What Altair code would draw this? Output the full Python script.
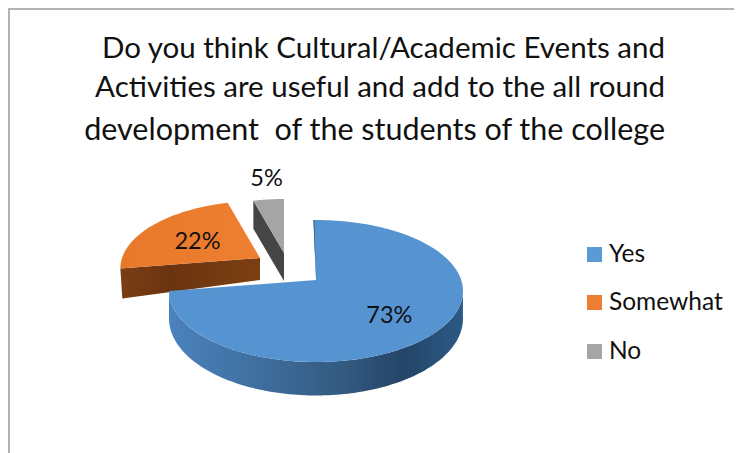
import numpy as np
import pandas as pd
import altair as alt

# ---- data ----
categories = ["Yes", "Somewhat", "No"]
shares = [73, 22, 5]
labels = ["73%", "22%", "5%"]
title_lines = [
    "Do you think Cultural/Academic Events and",
    "Activities are useful and add to the all round",
    "development\u00a0 of the students of the college",
]

# ---- style ----
top_colors = ["#5694d1", "#e97b2c", "#a5a5a5"]
legend_colors = ["#5b9bd5", "#ed7d31", "#a5a5a5"]
FONT = "Lato"
RX, RY, LIFT = 147, 71, 11
apex = [(316, 280), (260, 258), (284, 253)]
size_k = [1.0, 0.95, 0.9]
label_frac = [0.70, 0.57, 1.13]
label_dy = [-10, -3, -12]

X = alt.X("x:Q", axis=None, scale=alt.Scale(domain=[8, 734], range=[0, 726]))
Y = alt.Y("y:Q", axis=None, scale=alt.Scale(domain=[8, 453], range=[0, 445]))


def warp(theta):
    # foreshortening of the tilted disc
    return np.interp(theta, [0, 262.8, 342, 360], [-1, 270, 346.6, 360])


def depth(phi):
    return 27.5 - 6 * np.cos(np.radians(phi))


def rim(i, phi):
    ax, ay = apex[i]
    k = size_k[i]
    r = np.radians(phi)
    return ax + k * RX * np.sin(r), ay + LIFT * k - k * RY * np.cos(r)


def poly(xs, ys, fill, stroke=None):
    df = pd.DataFrame({"x": xs, "y": ys, "o": range(len(xs))})
    return (
        alt.Chart(df)
        .mark_line(fill=fill, stroke=stroke or "#00000000", strokeWidth=0.5, clip=False)
        .encode(x=X, y=Y, order="o:Q")
    )


def grad(stops):
    return alt.Gradient(
        gradient="linear", x1=0, x2=1, y1=0, y2=0,
        stops=[alt.GradientStop(offset=o, color=c) for o, c in stops],
    )


edges = np.cumsum([0] + shares) * 3.6
starts = warp(edges[:-1])
ends = warp(edges[1:])
ends[2] = 360
layers = []

# border
border = pd.DataFrame({"x": [734, 9, 9], "y": [9, 9, 453], "o": [0, 1, 2]})
layers.append(
    alt.Chart(border).mark_line(color="#b2b2b2", strokeWidth=2).encode(x=X, y=Y, order="o:Q")
)

# orange: flat cut face, then top
ax, ay = apex[1]
lx, ly = rim(1, starts[1])
layers.append(
    poly([lx, ax, ax, lx + 2], [ly, ay, ay + 22, ly + 30],
         grad([(0, "#7a3e14"), (0.35, "#6b3410"), (1, "#7c3f12")]))
)
phi = np.linspace(starts[1], ends[1], 50)
px, py = rim(1, phi)
layers.append(
    poly([ax, *px, ax], [ay, *py, ay], grad([(0, "#e8782a"), (1, "#ef7f30")]))
)

# grey: inner face, then top
ax, ay = apex[2]
lx, ly = rim(2, starts[2])
layers.append(poly([lx, ax, ax, lx], [ly, ay, ay + 28, ly + 28], "#454545"))
phi = np.linspace(starts[2], ends[2], 20)
px, py = rim(2, phi)
layers.append(poly([ax, *px, ax], [ay, *py, ay], "#a5a5a5"))

# blue: rim wall, then top
phi = np.linspace(88, ends[0], 120)
px, py = rim(0, phi)
d = depth(phi)
layers.append(
    poly([*px, *px[::-1]], [*py, *(py + d)[::-1]],
         grad([(0, "#4b82bd"), (0.3, "#3f6f9f"), (0.6, "#33597f"),
               (0.8, "#234568"), (1, "#2c5a86")]))
)
ax, ay = apex[0]
phi = np.linspace(starts[0], ends[0], 180)
px, py = rim(0, phi)
layers.append(poly([ax, *px, ax], [ay, *py, ay], top_colors[0]))
layers.append(poly([ax, px[0], px[0] + 1], [ay, py[0], py[0]], "#2f5a86"))

# data labels
mids = (starts + ends) / 2
lab_x, lab_y = [], []
for i, m in enumerate(mids):
    r = np.radians(m)
    k = size_k[i]
    lab_x.append(apex[i][0] + k * RX * np.sin(r) * label_frac[i])
    lab_y.append(apex[i][1] + LIFT * k - k * RY * np.cos(r) * label_frac[i] + label_dy[i])
layers.append(
    alt.Chart(pd.DataFrame({"x": lab_x, "y": lab_y, "t": labels}))
    .mark_text(font=FONT, fontSize=23.5, color="#111111", align="center", baseline="middle")
    .encode(x=X, y=Y, text="t:N")
)

# legend
leg_y = [254.5, 302.5, 351.5]
leg = pd.DataFrame({"x": 594.5, "y": leg_y, "c": legend_colors})
layers.append(
    alt.Chart(leg).mark_square(size=225, opacity=1)
    .encode(x=X, y=Y, color=alt.Color("c:N", scale=None))
)
leg_t = pd.DataFrame({"x": 609, "y": leg_y, "t": categories})
layers.append(
    alt.Chart(leg_t)
    .mark_text(font=FONT, fontSize=24.5, color="#111111", align="left", baseline="middle")
    .encode(x=X, y=Y, text="t:N")
)

# title
title_y = [49, 88, 131]
title_size = [29.5, 29.5, 30.5]
for line, yy, fs in zip(title_lines, title_y, title_size):
    layers.append(
        alt.Chart(pd.DataFrame({"x": [665], "y": [yy], "t": [line]}))
        .mark_text(font=FONT, fontSize=fs, color="#111111", align="right", baseline="middle")
        .encode(x=X, y=Y, text="t:N")
    )

chart = (
    alt.layer(*layers)
    .properties(width=726, height=445, autosize=alt.AutoSizeParams(type="none"), padding=0,
                background="white")
    .configure_view(stroke=None)
)
chart.save("out.html", embed_options={"renderer": "svg", "actions": False})
